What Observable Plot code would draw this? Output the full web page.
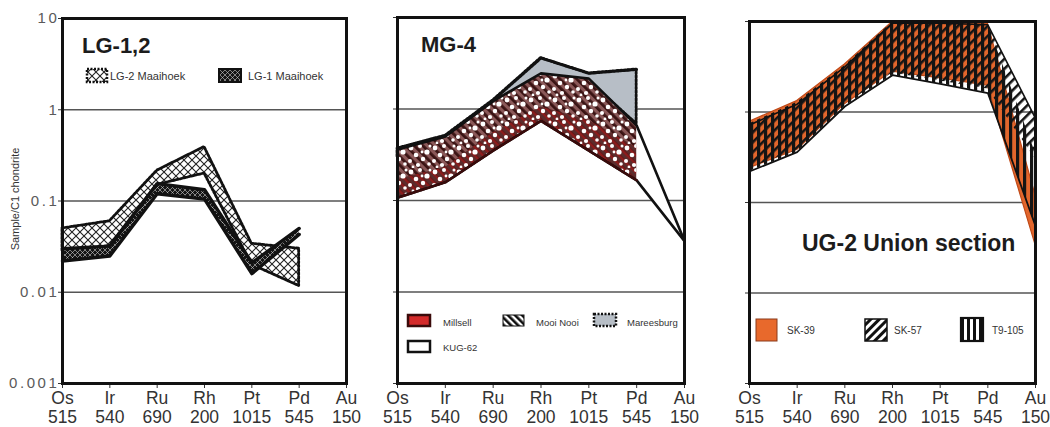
<!DOCTYPE html>
<html><head><meta charset="utf-8">
<script src="https://cdn.jsdelivr.net/npm/d3@7"></script>
<script src="https://cdn.jsdelivr.net/npm/@observablehq/plot@0.6"></script>
<style>
body{margin:0;background:#fff;font-family:"Liberation Sans",Arial,sans-serif;}
#wrap{position:relative;width:1050px;height:427px;overflow:hidden;background:#fff;}
#wrap svg.plot{position:absolute;top:0;overflow:visible;}
#overlay{position:absolute;left:0;top:0;pointer-events:none;}
#p1 g[text-anchor="end"] text{letter-spacing:2.6px;}
</style></head><body>
<svg width="0" height="0" style="position:absolute">
<defs>
  <pattern id="xhatch" width="8" height="8" patternUnits="userSpaceOnUse">
    <rect width="8" height="8" fill="#fff"/>
    <path d="M0,0L8,8M8,0L0,8" stroke="#222" stroke-width="1.1"/>
  </pattern>
  <pattern id="lg1pat" width="5" height="5" patternUnits="userSpaceOnUse">
    <rect width="5" height="5" fill="#151515"/>
    <path d="M0,0L5,5M5,0L0,5" stroke="#ccc" stroke-width="0.6"/>
  </pattern>
  <pattern id="mooi" width="6" height="6" patternUnits="userSpaceOnUse" patternTransform="rotate(-45)">
    <rect width="6" height="6" fill="#8a5858"/>
    <rect width="2.8" height="6" fill="#3a1313"/>
  </pattern>
  <pattern id="mill" width="6" height="6" patternUnits="userSpaceOnUse" patternTransform="rotate(-45)">
    <rect width="6" height="6" fill="#3e0e0e"/>
    <rect width="2.4" height="6" fill="#c42222"/>
  </pattern>
  <pattern id="wdots" width="24" height="24" patternUnits="userSpaceOnUse">
    <circle cx="3" cy="4" r="2.4" fill="#fff"/>
    <circle cx="12" cy="2" r="2.0" fill="#fff"/>
    <circle cx="19" cy="8" r="2.6" fill="#fff"/>
    <circle cx="8" cy="11" r="2.3" fill="#fff"/>
    <circle cx="15" cy="15" r="2.2" fill="#fff"/>
    <circle cx="2" cy="17" r="2.0" fill="#fff"/>
    <circle cx="10" cy="21" r="2.1" fill="#fff"/>
    <circle cx="21" cy="20" r="1.8" fill="#fff"/>
    <circle cx="22" cy="2" r="1.5" fill="#fff"/>
    <circle cx="14" cy="8" r="1.4" fill="#fff"/>
    <circle cx="5" cy="23" r="1.4" fill="#fff"/>
  </pattern>
  <pattern id="stripeLeg" width="5" height="5" patternUnits="userSpaceOnUse" patternTransform="rotate(-45)">
    <rect width="5" height="5" fill="#fff"/>
    <rect width="2.6" height="5" fill="#111"/>
  </pattern>
  <pattern id="vbars" width="7" height="7" patternUnits="userSpaceOnUse">
    <rect width="3.2" height="7" fill="#141414"/>
  </pattern>
  <pattern id="diag57" width="7" height="7" patternUnits="userSpaceOnUse" patternTransform="rotate(45)">
    <rect width="2.6" height="7" fill="#141414"/>
  </pattern>
  <pattern id="diag57Leg" width="6" height="6" patternUnits="userSpaceOnUse" patternTransform="rotate(45)">
    <rect width="6" height="6" fill="#fff"/>
    <rect width="3" height="6" fill="#111"/>
  </pattern>
  <pattern id="vbarsLeg" width="6" height="6" patternUnits="userSpaceOnUse">
    <rect width="6" height="6" fill="#fff"/>
    <rect x="1" width="3" height="6" fill="#111"/>
  </pattern>
</defs>
</svg>
<div id="wrap"></div>
<script>
// ---- shared categories / tick labels ----
const elements = ["Os", "Ir", "Ru", "Rh", "Pt", "Pd", "Au"];
const chondrite = ["515", "540", "690", "200", "1015", "545", "150"];
const yTicks = [0.001, 0.01, 0.1, 1, 10];
const yTickLabels = ["0.001", "0.01", "0.1", "1", "10"];
const gridValues = [0.01, 0.1, 1];

// ---- LG-1,2 panel ----
const lg2Upper = [0.050, 0.060, 0.215, 0.39, 0.034, 0.030];
const lg2Lower = [0.028, 0.032, 0.150, 0.20, 0.020, 0.0117];
const lg1Upper = [0.030, 0.032, 0.155, 0.133, 0.021, 0.050];
const lg1Lower = [0.022, 0.025, 0.120, 0.105, 0.016, 0.043];

// ---- MG-4 panel ----
const mareesUpper = [0.37, 0.51, 1.24, 3.6, 2.45, 2.7];
const mareesLower = [0.30, 0.42, 1.00, 2.3, 2.00, 0.69];
const kugUpper = [0.36, 0.50, 1.22, 2.45, 2.15, 0.66, 0.036];
const kugLower = [0.107, 0.158, 0.35, 0.74, 0.35, 0.166, 0.036];
const mooiUpper = [0.36, 0.50, 1.22, 2.45, 2.15, 0.66];
const mooiLower = [0.107, 0.158, 0.35, 0.74, 0.35, 0.166];
const millUpper = [0.17, 0.23, 0.55, 1.05, 0.75, 0.38];
const millLower = [0.107, 0.158, 0.35, 0.74, 0.35, 0.166];

// ---- UG-2 Union section panel ----
const sk39Upper = [0.78, 1.32, 3.35, 9.9, 9.9, 9.5, 0.12];
const sk39Lower = [0.24, 0.38, 1.22, 2.8, 2.35, 1.95, 0.034];
const t9Upper = [0.74, 1.28, 3.25, 9.9, 9.9, 9.4, 0.35];
const t9Lower = [0.22, 0.36, 1.15, 2.55, 2.05, 1.62, 0.055];
const sk57Upper = [0.72, 1.22, 3.15, 9.6, 9.6, 9.2, 0.85];
const sk57Lower = [0.24, 0.38, 1.2, 2.7, 2.2, 1.8, 0.3];

const band = (upper, lower) => upper.map((u, i) => ({x: i, y1: lower[i], y2: u}));
const dotted = {stroke: "#111", strokeWidth: 2.8, strokeDasharray: "2.2,1.6"};

function panel({id, left, width, ml, mr, mt, yLabels, marks}) {
  const svg = Plot.plot({
    width, height: 427,
    marginLeft: ml, marginRight: mr, marginTop: mt, marginBottom: 44,
    style: {fontFamily: "Liberation Sans, Arial, sans-serif", color: "#333", background: "transparent", overflow: "visible"},
    x: {domain: [0, 6], ticks: d3.range(7), tickFormat: () => "", tickSize: 5, label: null},
    y: {type: "log", domain: [0.001, 10], ticks: yTicks, tickFormat: () => "", tickSize: 4, label: null},
    marks: [
      Plot.ruleY(gridValues, {stroke: "#555", strokeWidth: 1.5}),
      ...marks,
      Plot.frame({stroke: "#111", strokeWidth: 3}),
      Plot.text(elements, {x: (d, i) => i, y: () => 0.001, text: (d, i) => d + "\n" + chondrite[i],
        dy: 7, lineAnchor: "top", fontSize: 17.5, lineHeight: 1.08, fill: "#333"}),
      ...(yLabels ? [Plot.text(yTicks, {y: d => d, text: (d, i) => yTickLabels[i], frameAnchor: "left",
        textAnchor: "end", dx: -3, fontSize: 15, fill: "#5a5a5a"})] : [])
    ]
  });
  svg.classList.add("plot");
  svg.id = id;
  svg.style.left = left + "px";
  document.getElementById("wrap").appendChild(svg);
  return svg;
}

const lg2 = band(lg2Upper, lg2Lower);
const lg1 = band(lg1Upper, lg1Lower);
panel({id: "p1", left: 0, width: 360, ml: 62, mr: 14, mt: 18, yLabels: true, marks: [
  Plot.areaY(lg2, {x: "x", y1: "y1", y2: "y2", fill: "url(#xhatch)", ...dotted}),
  Plot.areaY(lg1, {x: "x", y1: "y1", y2: "y2", fill: "url(#lg1pat)"}),
  Plot.lineY(lg1, {x: "x", y: "y2", stroke: "#111", strokeWidth: 3.4}),
  Plot.lineY(lg1, {x: "x", y: "y1", stroke: "#111", strokeWidth: 3.4})
]});

const mar = band(mareesUpper, mareesLower);
const kug = band(kugUpper, kugLower);
const mooi = band(mooiUpper, mooiLower);
const mill = band(millUpper, millLower);
panel({id: "p2", left: 360, width: 340, ml: 37, mr: 16, mt: 17, yLabels: false, marks: [
  Plot.areaY(mar, {x: "x", y1: "y1", y2: "y2", fill: "#b7bec6", ...dotted}),
  Plot.areaY(kug, {x: "x", y1: "y1", y2: "y2", fill: "#fff"}),
  Plot.areaY(mooi, {x: "x", y1: "y1", y2: "y2", fill: "url(#mooi)"}),
  Plot.areaY(mill, {x: "x", y1: "y1", y2: "y2", fill: "url(#mill)", fillOpacity: 0.6}),
  Plot.areaY(mooi, {x: "x", y1: "y1", y2: "y2", fill: "url(#wdots)"}),
  Plot.lineY(kug, {x: "x", y: "y2", stroke: "#111", strokeWidth: 2.6}),
  Plot.lineY(kug, {x: "x", y: "y1", stroke: "#111", strokeWidth: 2.6}),
  Plot.lineY(mill, {x: "x", y: "y1", stroke: "#3a0a0a", strokeWidth: 2.4, strokeDasharray: "2,1.5"}),
  Plot.lineY(mar, {x: "x", y: "y2", ...dotted})
]});

const sk39 = band(sk39Upper, sk39Lower);
const t9 = band(t9Upper, t9Lower);
const sk57 = band(sk57Upper, sk57Lower);
panel({id: "p3", left: 715, width: 335, ml: 34, mr: 15, mt: 21, yLabels: false, marks: [
  Plot.areaY(sk39, {x: "x", y1: "y1", y2: "y2", fill: "#e2662c", stroke: "#c04a18", strokeWidth: 1.2}),
  Plot.areaY(t9, {x: "x", y1: "y1", y2: "y2", fill: "url(#vbars)"}),
  Plot.areaY(sk57, {x: "x", y1: "y1", y2: "y2", fill: "url(#diag57)"}),
  Plot.lineY(sk57, {x: "x", y: "y2", stroke: "#111", strokeWidth: 1.6}),
  Plot.lineY(t9, {x: "x", y: "y1", stroke: "#111", strokeWidth: 1.8})
]});

// ---- annotations: titles, axis title, legends ----
const ns = "http://www.w3.org/2000/svg";
const ov = document.createElementNS(ns, "svg");
ov.setAttribute("id", "overlay"); ov.setAttribute("width", 1050); ov.setAttribute("height", 427);
ov.style.fontFamily = "Liberation Sans, Arial, sans-serif";
document.getElementById("wrap").appendChild(ov);
function el(tag, attrs, text) {
  const e = document.createElementNS(ns, tag);
  for (const k in attrs) e.setAttribute(k, attrs[k]);
  if (text != null) e.textContent = text;
  ov.appendChild(e); return e;
}
const titles = [["LG-1,2", 82, 53, 22], ["MG-4", 421, 52, 22], ["UG-2 Union section", 802, 251, 23]];
titles.forEach(([t, x, y, s]) => el("text", {x, y, "font-size": s, "font-weight": "bold", fill: "#1c1c1c"}, t));
el("text", {x: 0, y: 0, transform: "translate(19,199) rotate(-90)", "text-anchor": "middle", "font-size": 11, fill: "#333"}, "Sample/C1 chondrite");

const legendItems = [
  {label: "LG-2 Maaihoek", sx: 87, sy: 69, sw: 20, sh: 13, fill: "url(#xhatch)", stroke: "#111", swd: 2.5, dash: "2,1.5", tx: 110, ty: 80, fs: 11},
  {label: "LG-1 Maaihoek", sx: 219, sy: 69, sw: 22, sh: 13, fill: "url(#lg1pat)", stroke: "#111", swd: 2, dash: null, tx: 248, ty: 80, fs: 11},
  {label: "Millsell", sx: 408, sy: 315, sw: 22, sh: 11, fill: "#d42a2a", stroke: "#3a0a0a", swd: 2.5, dash: null, tx: 443, ty: 326, fs: 9.5},
  {label: "Mooi Nooi", sx: 503, sy: 315, sw: 21, sh: 11, fill: "url(#stripeLeg)", stroke: "#111", swd: 1, dash: null, tx: 536, ty: 326, fs: 9.5},
  {label: "Mareesburg", sx: 594, sy: 314, sw: 22, sh: 12, fill: "#b7bec6", stroke: "#111", swd: 2.5, dash: "2,1.5", tx: 627, ty: 326, fs: 9.5},
  {label: "KUG-62", sx: 408, sy: 341, sw: 22, sh: 11, fill: "#fff", stroke: "#111", swd: 2.5, dash: null, tx: 443, ty: 351, fs: 9.5},
  {label: "SK-39", sx: 756, sy: 319, sw: 21, sh: 22, fill: "#e8692c", stroke: "#8a3a1a", swd: 1, dash: null, tx: 787, ty: 334, fs: 10},
  {label: "SK-57", sx: 865, sy: 319, sw: 22, sh: 22, fill: "url(#diag57Leg)", stroke: "#111", swd: 1.5, dash: null, tx: 894, ty: 334, fs: 10},
  {label: "T9-105", sx: 961, sy: 318, sw: 22, sh: 23, fill: "url(#vbarsLeg)", stroke: "#111", swd: 2.2, dash: null, tx: 992, ty: 334, fs: 10}
];
legendItems.forEach(d => {
  const a = {x: d.sx, y: d.sy, width: d.sw, height: d.sh, fill: d.fill, stroke: d.stroke, "stroke-width": d.swd};
  if (d.dash) a["stroke-dasharray"] = d.dash;
  el("rect", a);
  el("text", {x: d.tx, y: d.ty, "font-size": d.fs, fill: "#333"}, d.label);
});
</script>
</body></html>
